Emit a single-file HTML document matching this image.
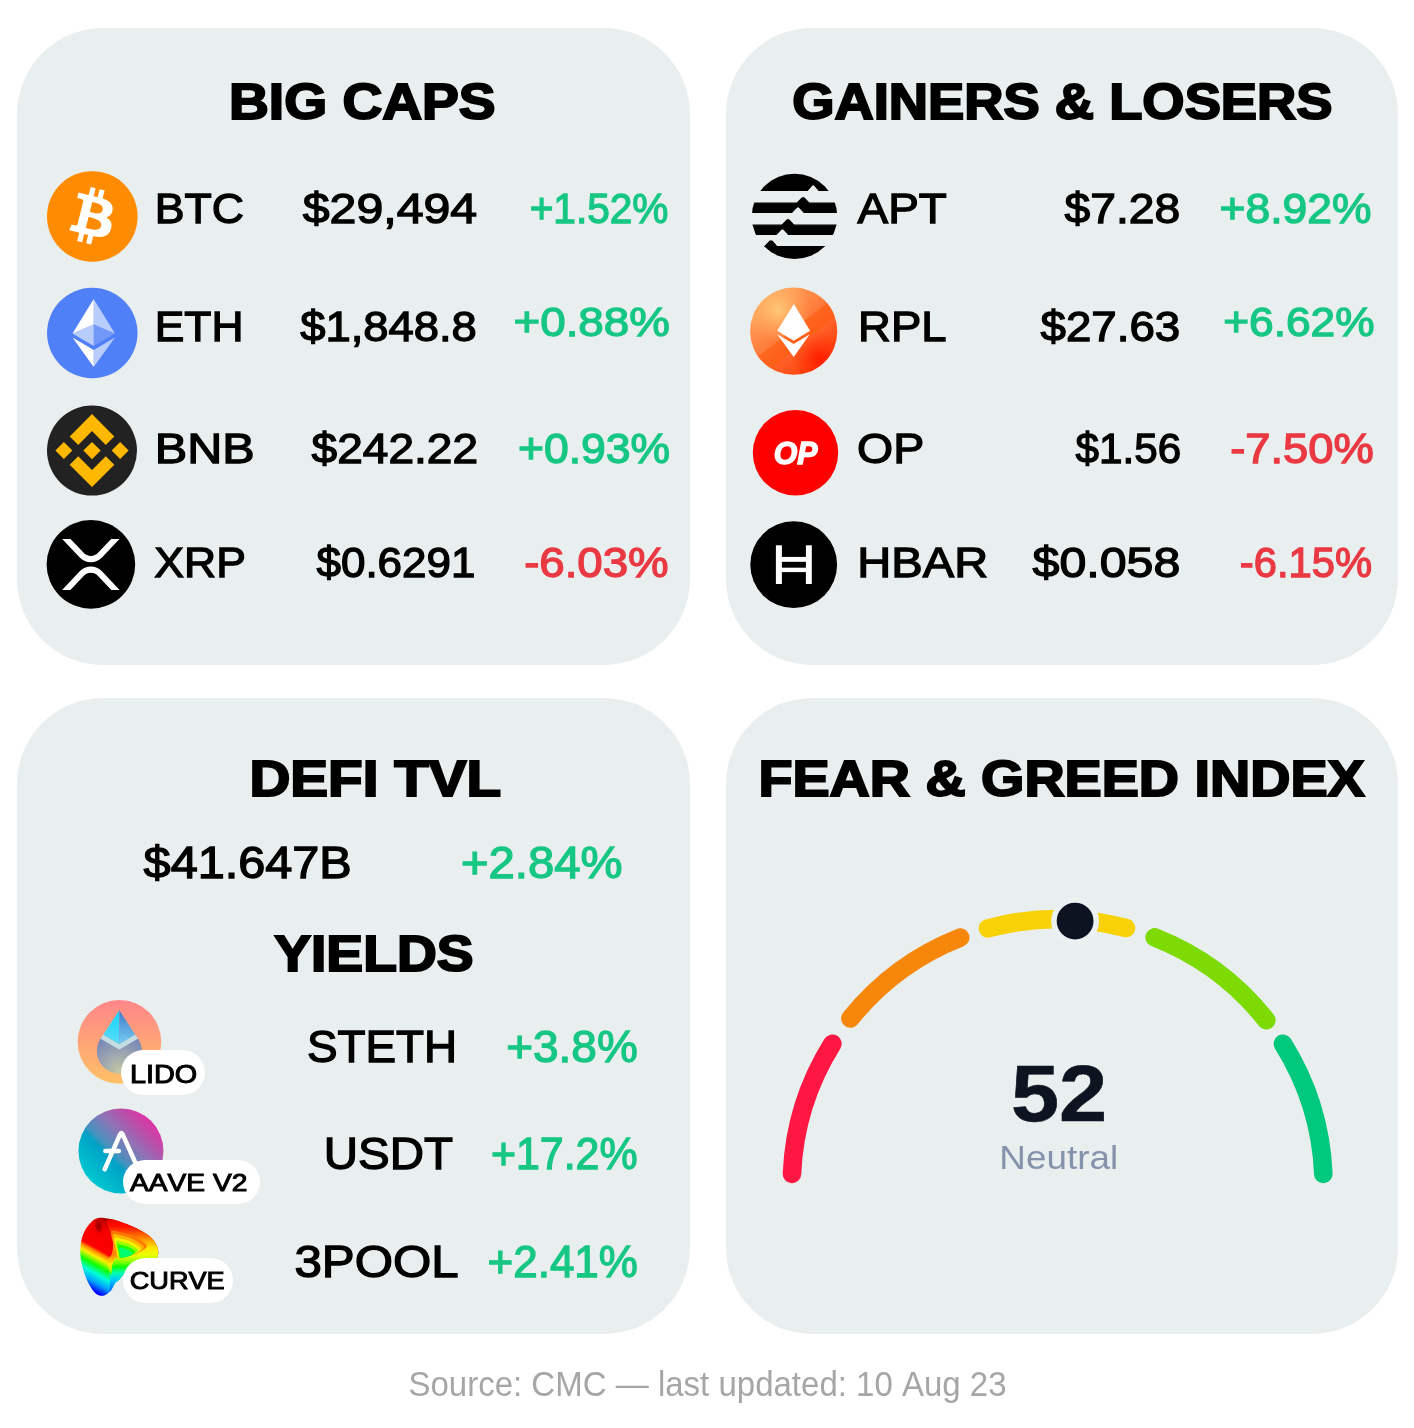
<!DOCTYPE html>
<html lang="en"><head><meta charset="utf-8"><title>Crypto market dashboard</title>
<style>
html,body{margin:0;padding:0;background:#fff;}
body{width:1414px;height:1428px;position:relative;overflow:hidden;font-family:"Liberation Sans",sans-serif;}
.card{position:absolute;background:#E9EEEE;border-radius:86px;}
.tx{position:absolute;left:0;top:0;margin:0;padding:0;display:block;line-height:1;white-space:nowrap;transform-origin:0 0;font-kerning:none;letter-spacing:0;}
.pill{position:absolute;background:#fff;border-radius:23px;}
svg{position:absolute;left:0;top:0;overflow:visible;}
</style></head><body>
<main>
<svg class="defs" width="0" height="0" aria-hidden="true"><defs>
<linearGradient id="gLido" x1="0" y1="0" x2="0" y2="1"><stop offset="0" stop-color="#FF8689"/><stop offset="1" stop-color="#FFC166"/></linearGradient>
<radialGradient id="gLidoBody" cx="0.5" cy="0.95" r="0.95"><stop offset="0" stop-color="#C4C8A2"/><stop offset="0.45" stop-color="#9AA4B0"/><stop offset="1" stop-color="#6A7CBA"/></radialGradient>
<linearGradient id="gLidoL" x1="0" y1="0" x2="0" y2="1"><stop offset="0" stop-color="#12D4FF"/><stop offset="1" stop-color="#5CDDF6"/></linearGradient>
<linearGradient id="gLidoR" x1="0" y1="0" x2="0" y2="1"><stop offset="0" stop-color="#4478CC"/><stop offset="1" stop-color="#74CCF2"/></linearGradient>
<linearGradient id="gAave" x1="0.12" y1="0.88" x2="0.88" y2="0.12"><stop offset="0" stop-color="#00CBD1"/><stop offset="0.36" stop-color="#00A2C6"/><stop offset="0.43" stop-color="#4492BF"/><stop offset="0.62" stop-color="#8A76B6"/><stop offset="0.82" stop-color="#BC4EA9"/><stop offset="1" stop-color="#E52FA6"/></linearGradient>
<linearGradient id="gRpl" x1="0.15" y1="0.1" x2="0.85" y2="0.95"><stop offset="0" stop-color="#FFAA62"/><stop offset="0.45" stop-color="#FF7A3A"/><stop offset="1" stop-color="#FF3606"/></linearGradient>
<radialGradient id="gRplHi" cx="0.32" cy="0.26" r="0.38"><stop offset="0" stop-color="#FFCB7A" stop-opacity="0.95"/><stop offset="1" stop-color="#FFB060" stop-opacity="0"/></radialGradient>
<radialGradient id="gRplLo" cx="0.80" cy="0.82" r="0.32"><stop offset="0" stop-color="#FF1A00" stop-opacity="0.95"/><stop offset="1" stop-color="#FF3000" stop-opacity="0"/></radialGradient>
<linearGradient id="gCv1" gradientUnits="userSpaceOnUse" x1="101.82" y1="1217.76" x2="69.0" y2="1277.66"><stop offset="0" stop-color="#B00000"/><stop offset="0.12" stop-color="#F40000"/><stop offset="0.43" stop-color="#FF0000"/><stop offset="0.475" stop-color="#FF8A00"/><stop offset="0.54" stop-color="#FFF000"/><stop offset="0.645" stop-color="#10FF00"/><stop offset="0.76" stop-color="#00FFD8"/><stop offset="0.88" stop-color="#00A0FF"/><stop offset="1" stop-color="#0000FF"/></linearGradient>
<linearGradient id="gCv2" x1="0" y1="0" x2="0" y2="1"><stop offset="0" stop-color="#F00000"/><stop offset="0.10" stop-color="#FF1000"/><stop offset="0.22" stop-color="#FF6A00"/><stop offset="0.31" stop-color="#FFB000"/><stop offset="0.40" stop-color="#FFE800"/><stop offset="0.50" stop-color="#E8FF00"/><stop offset="0.58" stop-color="#90FF00"/><stop offset="0.65" stop-color="#10FF00"/><stop offset="0.74" stop-color="#00FFB0"/><stop offset="0.84" stop-color="#00C8FF"/><stop offset="1" stop-color="#0060FF"/></linearGradient>
<radialGradient id="gCvDark"><stop offset="0" stop-color="#8E0000" stop-opacity="0.95"/><stop offset="0.55" stop-color="#A80000" stop-opacity="0.7"/><stop offset="1" stop-color="#E00000" stop-opacity="0"/></radialGradient>
<linearGradient id="gCvStrip" x1="0" y1="0" x2="0" y2="1"><stop offset="0" stop-color="#FF5000"/><stop offset="0.35" stop-color="#FF9C00"/><stop offset="0.6" stop-color="#FFE800"/><stop offset="0.85" stop-color="#A0FF00"/><stop offset="1" stop-color="#30FF00"/></linearGradient>
<clipPath id="cApt"><circle cx="794.5" cy="216.4" r="42.7"/></clipPath>
<clipPath id="cRpl"><circle cx="793.7" cy="331.2" r="43.6"/></clipPath>
</defs></svg>
<section class="card" id="big-caps" style="left:17px;top:28px;width:673px;height:637px">
<svg class="art" width="673" height="637" viewBox="17 28 673 637" aria-hidden="true">
<g id="ic-btc"><circle cx="92.3" cy="216.45" r="45.3" fill="#FF8C00"/>
<path id="btcB" transform="translate(47.05,171.05) scale(0.02223)" fill="#fff" d="M2947.77 1754.38c40.72,-272.26 -166.56,-418.61 -450,-516.24l91.95 -368.8 -224.5 -55.94 -89.51 359.09c-59.02,-14.72 -119.63,-28.59 -179.87,-42.34l90.16 -361.46 -224.36 -55.94 -92 368.68c-48.84,-11.12 -96.81,-22.11 -143.35,-33.69l0.26 -1.16 -309.59 -77.31 -59.72 239.78c0,0 166.56,38.18 163.05,40.53 90.91,22.69 107.35,82.87 104.62,130.57l-104.74 420.15c6.26,1.59 14.38,3.89 23.34,7.49 -7.49,-1.86 -15.46,-3.89 -23.73,-5.87l-146.81 588.57c-11.11,27.62 -39.31,69.07 -102.87,53.33 2.25,3.26 -163.17,-40.72 -163.17,-40.72l-111.46 256.98 292.15 72.83c54.35,13.63 107.61,27.89 160.06,41.3l-92.9 373.03 224.24 55.94 92 -369.07c61.26,16.63 120.71,31.97 178.91,46.43l-91.69 367.33 224.51 55.94 92.89 -372.33c382.82,72.45 670.67,43.24 791.83,-303.02 97.63,-278.78 -4.86,-439.58 -206.26,-544.44 146.69,-33.83 257.18,-130.31 286.64,-329.61l-0.07 -0.05zm-512.93 719.26c-69.38,278.78 -538.76,128.08 -690.94,90.29l123.28 -494.2c152.17,37.99 640.17,113.17 567.67,403.91zm69.43 -723.3c-63.29,253.58 -453.96,124.75 -580.69,93.16l111.77 -448.21c126.73,31.59 534.85,90.55 468.94,355.05l-0.02 0z"/></g>
<g id="ic-eth"><circle cx="92.3" cy="333" r="45.25" fill="#5080F7"/><g transform="translate(47.02,287.72) scale(2.83)" fill="#fff"><path fill-opacity=".602" d="M16.498 4v8.87l7.497 3.35z"/><path d="M16.498 4L9 16.22l7.498-3.35z"/><path fill-opacity=".602" d="M16.498 21.968v6.027L24 17.616z"/><path d="M16.498 27.995v-6.028L9 17.616z"/><path fill-opacity=".2" d="M16.498 20.573l7.497-4.353-7.497-3.348z"/><path fill-opacity=".602" d="M9 16.22l7.498 4.353v-7.701z"/></g></g>
<g id="ic-bnb"><circle cx="92.0" cy="450.6" r="45" fill="#222222"/>
<polygon fill="#FFB800" points="92.00,414.10 114.30,436.40 105.80,444.90 92.00,431.10 78.20,444.90 69.70,436.40"/>
<polygon fill="#FFB800" points="92.00,487.10 114.30,464.80 105.80,456.30 92.00,470.10 78.20,456.30 69.70,464.80"/>
<polygon fill="#FFB800" points="63.90,442.10 72.40,450.60 63.90,459.10 55.40,450.60"/>
<polygon fill="#FFB800" points="92.00,441.90 100.70,450.60 92.00,459.30 83.30,450.60"/>
<polygon fill="#FFB800" points="120.10,442.10 128.60,450.60 120.10,459.10 111.60,450.60"/>
</g>
<g id="ic-xrp"><circle cx="90.9" cy="564.4" r="44.3" fill="#000"/><g transform="translate(62.1,538.9) scale(0.11230,0.12052)" fill="#fff"><path d="M437,0h74L357,152.48c-55.77,55.19-146.19,55.19-202,0L.94,0H75L192,115.83a91.11,91.11,0,0,0,127.91,0Z"/><path d="M74.05,424H0L155,270.58c55.77-55.19,146.19-55.19,202,0L512,424H438L320,307.23a91.11,91.11,0,0,0-127.91,0Z"/></g></g>
</svg>
<h2 id="h1" class="tx title" style="font-weight:700;font-size:50.00px;color:#000;-webkit-text-stroke:2.0px #000;transform:translate(212.01px,48.92px) scaleX(1.1032)">BIG CAPS</h2>
<span id="t1" class="tx ticker" style="font-weight:400;font-size:42.30px;color:#000;-webkit-text-stroke:1.3px #000;transform:translate(137.73px,160.05px) scaleX(1.0543)">BTC</span>
<span id="p1" class="tx price" style="font-weight:400;font-size:42.30px;color:#000;-webkit-text-stroke:1.3px #000;transform:translate(285.77px,160.05px) scaleX(1.1403)">$29,494</span>
<span id="c1" class="tx change" style="font-weight:400;font-size:42.30px;color:#16C784;-webkit-text-stroke:1.3px #16C784;transform:translate(512.64px,160.05px) scaleX(0.9596)">+1.52%</span>
<span id="t2" class="tx ticker" style="font-weight:400;font-size:42.01px;color:#000;-webkit-text-stroke:1.3px #000;transform:translate(137.70px,277.59px) scaleX(1.0569)">ETH</span>
<span id="p2" class="tx price" style="font-weight:400;font-size:42.01px;color:#000;-webkit-text-stroke:1.3px #000;transform:translate(283.26px,277.59px) scaleX(1.0798)">$1,848.8</span>
<span id="c2" class="tx change" style="font-weight:400;font-size:41.57px;color:#16C784;-webkit-text-stroke:1.3px #16C784;transform:translate(496.48px,273.01px) scaleX(1.1005)">+0.88%</span>
<span id="t3" class="tx ticker" style="font-weight:400;font-size:41.86px;color:#000;-webkit-text-stroke:1.3px #000;transform:translate(137.82px,399.97px) scaleX(1.1587)">BNB</span>
<span id="p3" class="tx price" style="font-weight:400;font-size:41.86px;color:#000;-webkit-text-stroke:1.3px #000;transform:translate(294.62px,399.97px) scaleX(1.0996)">$242.22</span>
<span id="c3" class="tx change" style="font-weight:400;font-size:41.86px;color:#16C784;-webkit-text-stroke:1.3px #16C784;transform:translate(500.97px,399.97px) scaleX(1.0624)">+0.93%</span>
<span id="t4" class="tx ticker" style="font-weight:400;font-size:41.72px;color:#000;-webkit-text-stroke:1.3px #000;transform:translate(137.34px,514.04px) scaleX(1.0663)">XRP</span>
<span id="p4" class="tx price" style="font-weight:400;font-size:41.72px;color:#000;-webkit-text-stroke:1.3px #000;transform:translate(299.51px,514.04px) scaleX(1.0534)">$0.6291</span>
<span id="c4" class="tx change" style="font-weight:400;font-size:41.72px;color:#EA3943;-webkit-text-stroke:1.3px #EA3943;transform:translate(507.13px,514.04px) scaleX(1.0935)">-6.03%</span>
</section>
<section class="card" id="gainers-losers" style="left:726px;top:28px;width:672px;height:637px">
<svg class="art" width="672" height="637" viewBox="726 28 672 637" aria-hidden="true">
<g id="ic-apt" clip-path="url(#cApt)" fill="#000" stroke="#000" stroke-width="1.2" stroke-linejoin="round">
<polygon points="744.50,166.40 844.50,166.40 844.50,190.50 819.10,190.50 814.20,184.90 812.20,184.90 807.20,190.50 744.50,190.50"/>
<polygon points="744.50,203.20 796.90,203.20 802.20,197.90 804.10,197.90 809.20,203.20 844.50,203.20 844.50,212.30 804.00,212.30 799.00,206.80 797.10,206.80 791.80,212.30 744.50,212.30"/>
<polygon points="744.50,225.20 782.00,225.20 787.10,219.80 788.90,219.80 793.90,225.20 844.50,225.20 844.50,234.40 788.40,234.40 783.40,228.80 781.50,228.80 776.30,234.40 744.50,234.40"/>
<polygon points="744.50,246.70 764.70,246.70 770.10,241.00 771.90,241.00 776.90,246.70 844.50,246.70 844.50,266.40 744.50,266.40"/>
</g>
<g id="ic-rpl"><circle cx="793.7" cy="331.2" r="43.6" fill="url(#gRpl)"/><circle cx="793.7" cy="331.2" r="43.6" fill="url(#gRplHi)"/><circle cx="793.7" cy="331.2" r="43.6" fill="url(#gRplLo)"/>
<g clip-path="url(#cRpl)"><polygon fill="#FF5A0A" fill-opacity="0.55" points="741.7,369.2 837.7,295.2 845.7,307.2 753.7,383.2"/></g>
<polygon fill="#fff" points="793.8,304.1 810.1,330.7 793.7,340.8 777.2,330.7"/>
<polygon fill="#fff" points="777.2,334.3 793.7,344.1 809.8,334.3 793.7,357.1"/></g>
<g id="ic-op"><circle cx="795.5" cy="452.8" r="42.7" fill="#FE0000"/></g>
<g id="ic-hbar"><circle cx="793.7" cy="564.7" r="43.4" fill="#000"/><g fill="#fff"><rect x="775.9" y="545.3" width="6" height="38.7"/><rect x="805.9" y="545.3" width="5.9" height="38.7"/><rect x="779" y="556.9" width="30" height="4.9"/><rect x="779" y="567.7" width="30" height="4.4"/></g></g>
</svg>
<h2 id="h2" class="tx title" style="font-weight:700;font-size:49.27px;color:#000;-webkit-text-stroke:2.0px #000;transform:translate(66.22px,48.99px) scaleX(1.1028)">GAINERS &amp; LOSERS</h2>
<span id="t5" class="tx ticker" style="font-weight:400;font-size:42.30px;color:#000;-webkit-text-stroke:1.3px #000;transform:translate(131.61px,160.05px) scaleX(1.0836)">APT</span>
<span id="p5" class="tx price" style="font-weight:400;font-size:42.30px;color:#000;-webkit-text-stroke:1.3px #000;transform:translate(338.51px,160.05px) scaleX(1.0930)">$7.28</span>
<span id="c5" class="tx change" style="font-weight:400;font-size:42.30px;color:#16C784;-webkit-text-stroke:1.3px #16C784;transform:translate(493.61px,160.05px) scaleX(1.0495)">+8.92%</span>
<span id="t6" class="tx ticker" style="font-weight:400;font-size:42.01px;color:#000;-webkit-text-stroke:1.3px #000;transform:translate(132.07px,277.59px) scaleX(1.0822)">RPL</span>
<span id="p6" class="tx price" style="font-weight:400;font-size:42.01px;color:#000;-webkit-text-stroke:1.3px #000;transform:translate(314.52px,277.59px) scaleX(1.0872)">$27.63</span>
<span id="c6" class="tx change" style="font-weight:400;font-size:41.57px;color:#16C784;-webkit-text-stroke:1.3px #16C784;transform:translate(497.18px,273.01px) scaleX(1.0655)">+6.62%</span>
<span id="op" class="tx glyph" style="font-weight:700;font-style:italic;font-size:30.52px;color:#fff;-webkit-text-stroke:1.4px #fff;transform:translate(47.82px,409.56px) scaleX(0.9919)">OP</span>
<span id="t7" class="tx ticker" style="font-weight:400;font-size:41.86px;color:#000;-webkit-text-stroke:1.3px #000;transform:translate(131.07px,399.97px) scaleX(1.1096)">OP</span>
<span id="p7" class="tx price" style="font-weight:400;font-size:41.86px;color:#000;-webkit-text-stroke:1.3px #000;transform:translate(349.50px,399.97px) scaleX(1.0081)">$1.56</span>
<span id="c7" class="tx change" style="font-weight:400;font-size:41.86px;color:#EA3943;-webkit-text-stroke:1.3px #EA3943;transform:translate(504.19px,399.97px) scaleX(1.0829)">-7.50%</span>
<span id="t8" class="tx ticker" style="font-weight:400;font-size:41.72px;color:#000;-webkit-text-stroke:1.3px #000;transform:translate(131.37px,514.04px) scaleX(1.1284)">HBAR</span>
<span id="p8" class="tx price" style="font-weight:400;font-size:41.72px;color:#000;-webkit-text-stroke:1.3px #000;transform:translate(306.53px,514.04px) scaleX(1.1577)">$0.058</span>
<span id="c8" class="tx change" style="font-weight:400;font-size:41.72px;color:#EA3943;-webkit-text-stroke:1.3px #EA3943;transform:translate(513.85px,514.04px) scaleX(0.9998)">-6.15%</span>
</section>
<section class="card" id="defi" style="left:17px;top:698px;width:673px;height:636px">
<svg class="art" width="673" height="636" viewBox="17 698 673 636" aria-hidden="true">
<g id="ic-lido"><circle cx="119.45" cy="1041.9" r="41.8" fill="url(#gLido)"/>
<circle cx="119.31" cy="1051.20" r="22.5" fill="url(#gLidoBody)"/>
<polygon fill="#C4DDE3" points="100.45,1038.65 103.40,1034.60 119.31,1043.95 135.05,1034.60 137.95,1038.65 119.31,1049.60"/>
<polygon fill="url(#gLidoL)" points="119.31,1010.20 103.40,1034.60 119.31,1043.95"/>
<polygon fill="url(#gLidoR)" points="119.31,1010.20 135.05,1034.60 119.31,1043.95"/>
</g>
<g id="ic-aave"><circle cx="120.95" cy="1150.9" r="42.5" fill="url(#gAave)"/>
<path fill="none" stroke="#fff" stroke-width="4.5" stroke-linecap="round" stroke-linejoin="round" d="M104.65,1169.30 L120.05,1134.30 Q121.30,1131.50 122.65,1134.30 L139.95,1172.90 M105.35,1150.90 L118.85,1150.90"/></g>
<g id="ic-curve">
<path fill="url(#gCv1)" d="M101.82,1217.76 C104.71,1217.94 109.72,1218.61 113.85,1219.67 C117.97,1220.73 122.10,1222.32 126.58,1224.12 C131.06,1225.93 136.60,1228.23 140.72,1230.49 C144.85,1232.75 148.64,1235.15 151.33,1237.70 C154.02,1240.26 155.69,1243.12 156.85,1245.84 C158.00,1248.55 158.59,1251.67 158.26,1253.97 C157.93,1256.27 157.79,1257.98 154.87,1259.63 C151.94,1261.28 144.85,1262.34 140.72,1263.87 C136.60,1265.40 132.94,1267.05 130.11,1268.82 C127.28,1270.59 125.52,1272.71 123.75,1274.48 C121.98,1276.25 120.92,1278.01 119.50,1279.43 C118.09,1280.84 116.44,1281.55 115.26,1282.96 C114.08,1284.38 113.73,1286.12 112.43,1287.92 C111.14,1289.71 109.25,1292.39 107.48,1293.71 C105.71,1295.03 103.83,1295.92 101.82,1295.84 C99.82,1295.75 97.64,1295.25 95.46,1293.22 C93.28,1291.19 90.74,1287.50 88.74,1283.67 C86.74,1279.84 84.82,1274.95 83.44,1270.23 C82.06,1265.52 80.84,1260.22 80.47,1255.38 C80.09,1250.55 80.38,1245.48 81.17,1241.24 C81.96,1237.00 83.53,1233.11 85.21,1229.92 C86.88,1226.74 89.33,1224.03 91.22,1222.14 C93.10,1220.26 94.75,1219.34 96.52,1218.61 C98.29,1217.88 98.94,1217.58 101.82,1217.76Z"/>
<path fill="url(#gCv2)" d="M106.78,1221.44 C107.25,1219.14 110.55,1219.22 113.85,1219.67 C117.15,1220.12 122.10,1222.32 126.58,1224.12 C131.06,1225.93 136.60,1228.23 140.72,1230.49 C144.85,1232.75 148.64,1235.15 151.33,1237.70 C154.02,1240.26 155.69,1243.12 156.85,1245.84 C158.00,1248.55 158.59,1251.67 158.26,1253.97 C157.93,1256.27 157.79,1257.98 154.87,1259.63 C151.94,1261.28 144.85,1262.34 140.72,1263.87 C136.60,1265.40 132.94,1267.05 130.11,1268.82 C127.28,1270.59 125.52,1272.71 123.75,1274.48 C121.98,1276.25 120.92,1278.01 119.50,1279.43 C118.09,1280.84 116.44,1281.55 115.26,1282.96 C114.08,1284.38 113.38,1286.50 112.43,1287.92 C111.49,1289.33 110.02,1292.98 109.60,1291.45 C109.19,1289.92 110.13,1282.49 109.96,1278.72 C109.78,1274.95 109.07,1271.65 108.54,1268.82 C108.01,1265.99 106.24,1264.11 106.78,1261.75 C107.31,1259.39 110.64,1257.50 111.73,1254.68 C112.81,1251.85 113.40,1248.31 113.28,1244.78 C113.16,1241.24 112.10,1237.35 111.02,1233.46 C109.93,1229.57 106.30,1223.74 106.78,1221.44Z"/>
<path fill="#FF7800" d="M111.37,1231.69 C112.69,1229.22 118.39,1231.87 122.33,1232.75 C126.28,1233.64 131.00,1234.82 135.06,1237.00 C139.13,1239.18 146.26,1243.12 146.73,1245.84 C147.20,1248.55 141.25,1251.46 137.89,1253.26 C134.53,1255.07 130.17,1255.93 126.58,1256.66 C122.98,1257.39 118.35,1259.16 116.32,1257.65 C114.30,1256.14 115.24,1251.93 114.41,1247.60 C113.59,1243.28 110.05,1234.17 111.37,1231.69Z"/>
<path fill="#FFB400" d="M112.92,1234.94 C114.07,1232.77 119.06,1235.09 122.51,1235.86 C125.97,1236.64 130.09,1237.67 133.65,1239.58 C137.21,1241.49 143.45,1244.94 143.86,1247.31 C144.27,1249.68 139.06,1252.23 136.12,1253.81 C133.19,1255.39 129.37,1256.14 126.22,1256.78 C123.08,1257.42 119.02,1258.97 117.25,1257.65 C115.48,1256.33 116.30,1252.64 115.58,1248.86 C114.86,1245.07 111.76,1237.10 112.92,1234.94Z"/>
<path fill="#F4F000" d="M114.47,1238.18 C115.46,1236.32 119.73,1238.31 122.69,1238.98 C125.65,1239.64 129.18,1240.52 132.23,1242.16 C135.28,1243.79 140.63,1246.76 140.99,1248.79 C141.34,1250.82 136.88,1253.01 134.36,1254.36 C131.84,1255.71 128.57,1256.36 125.87,1256.90 C123.17,1257.45 119.70,1258.78 118.18,1257.65 C116.66,1256.51 117.37,1253.36 116.75,1250.11 C116.13,1246.87 113.48,1240.04 114.47,1238.18Z"/>
<path fill="#9CFF00" d="M116.01,1241.42 C116.84,1239.88 120.40,1241.54 122.86,1242.09 C125.33,1242.64 128.28,1243.38 130.82,1244.74 C133.36,1246.10 137.82,1248.57 138.11,1250.26 C138.41,1251.96 134.69,1253.78 132.59,1254.91 C130.49,1256.03 127.76,1256.57 125.52,1257.03 C123.27,1257.48 120.37,1258.59 119.11,1257.65 C117.84,1256.70 118.43,1254.07 117.91,1251.37 C117.40,1248.67 115.19,1242.97 116.01,1241.42Z"/>
<path fill="#20FF00" d="M117.56,1244.67 C118.22,1243.43 121.07,1244.76 123.04,1245.20 C125.02,1245.64 127.37,1246.23 129.41,1247.32 C131.44,1248.41 135.00,1250.39 135.24,1251.74 C135.48,1253.10 132.50,1254.55 130.82,1255.45 C129.14,1256.36 126.96,1256.79 125.16,1257.15 C123.37,1257.52 121.05,1258.40 120.04,1257.65 C119.02,1256.89 119.49,1254.79 119.08,1252.63 C118.67,1250.46 116.90,1245.91 117.56,1244.67Z"/>
<path fill="#00FF70" d="M119.11,1247.91 C119.60,1246.99 121.74,1247.98 123.22,1248.31 C124.70,1248.64 126.47,1249.08 127.99,1249.90 C129.52,1250.72 132.19,1252.20 132.37,1253.22 C132.54,1254.23 130.31,1255.33 129.05,1256.00 C127.79,1256.68 126.16,1257.00 124.81,1257.28 C123.46,1257.55 121.72,1258.21 120.96,1257.65 C120.20,1257.08 120.56,1255.50 120.25,1253.88 C119.94,1252.26 118.61,1248.84 119.11,1247.91Z"/>
<ellipse cx="98.64" cy="1226.03" rx="4.95" ry="8.49" fill="url(#gCvDark)" transform="rotate(-8 98.64 1226.03)"/>
<path fill="url(#gCvStrip)" d="M113.14,1247.60 C113.75,1247.90 115.52,1253.97 115.40,1256.80 C115.29,1259.63 113.10,1261.63 112.43,1264.58 C111.76,1267.52 111.96,1273.65 111.37,1274.48 C110.78,1275.30 109.64,1271.59 108.90,1269.53 C108.15,1267.46 106.45,1264.52 106.92,1262.10 C107.39,1259.69 110.69,1257.45 111.73,1255.03 C112.76,1252.61 112.53,1247.31 113.14,1247.60Z"/>
</g>
</svg>
<div class="pill" style="left:104.3px;top:351.8px;width:83.8px;height:45.2px"></div>
<div class="pill" style="left:105.8px;top:461.5px;width:137.3px;height:44.3px"></div>
<div class="pill" style="left:105.7px;top:560.0px;width:110.3px;height:44.9px"></div>
<h2 id="h3" class="tx title" style="font-weight:700;font-size:49.64px;color:#000;-webkit-text-stroke:2.0px #000;transform:translate(232.40px,56.96px) scaleX(1.1412)">DEFI TVL</h2>
<span id="p9" class="tx price" style="font-weight:400;font-size:43.46px;color:#000;-webkit-text-stroke:1.3px #000;transform:translate(126.60px,144.06px) scaleX(1.1190)">$41.647B</span>
<span id="c9" class="tx change" style="font-weight:400;font-size:43.46px;color:#16C784;-webkit-text-stroke:1.3px #16C784;transform:translate(444.00px,144.06px) scaleX(1.0873)">+2.84%</span>
<h2 id="h4" class="tx title" style="font-weight:700;font-size:49.64px;color:#000;-webkit-text-stroke:2.0px #000;transform:translate(257.17px,231.96px) scaleX(1.1127)">YIELDS</h2>
<span id="t9" class="tx ticker" style="font-weight:400;font-size:44.55px;color:#000;-webkit-text-stroke:1.3px #000;transform:translate(289.89px,326.96px) scaleX(1.0292)">STETH</span>
<span id="c10" class="tx change" style="font-weight:400;font-size:44.55px;color:#16C784;-webkit-text-stroke:1.3px #16C784;transform:translate(489.23px,326.96px) scaleX(1.0312)">+3.8%</span>
<span id="l1" class="tx label" style="font-weight:400;font-size:25.29px;color:#000;-webkit-text-stroke:1.0px #000;transform:translate(112.95px,364.09px) scaleX(1.1402)">LIDO</span>
<span id="t10" class="tx ticker" style="font-weight:400;font-size:44.19px;color:#000;-webkit-text-stroke:1.3px #000;transform:translate(306.74px,434.00px) scaleX(1.0738)">USDT</span>
<span id="c11" class="tx change" style="font-weight:400;font-size:44.19px;color:#16C784;-webkit-text-stroke:1.3px #16C784;transform:translate(473.94px,434.00px) scaleX(0.9700)">+17.2%</span>
<span id="l2" class="tx label" style="font-weight:400;font-size:24.56px;color:#000;-webkit-text-stroke:1.0px #000;transform:translate(112.97px,473.06px) scaleX(1.1467)">AAVE V2</span>
<span id="l3" class="tx label" style="font-weight:400;font-size:24.71px;color:#000;-webkit-text-stroke:1.0px #000;transform:translate(112.67px,571.08px) scaleX(1.0989)">CURVE</span>
<span id="t11" class="tx ticker" style="font-weight:400;font-size:44.11px;color:#000;-webkit-text-stroke:1.3px #000;transform:translate(277.50px,542.08px) scaleX(1.1158)">3POOL</span>
<span id="c12" class="tx change" style="font-weight:400;font-size:44.11px;color:#16C784;-webkit-text-stroke:1.3px #16C784;transform:translate(470.60px,542.08px) scaleX(0.9958)">+2.41%</span>
</section>
<section class="card" id="fear-greed" style="left:726px;top:698px;width:672px;height:636px">
<svg class="art" width="672" height="636" viewBox="726 698 672 636" aria-hidden="true">
<g id="gauge" fill="none" stroke-width="18.6" stroke-linecap="round">
<path stroke="#FF1744" d="M791.98,1173.87 A265.9,265.9 0 0 1 832.40,1043.70"/>
<path stroke="#F7870B" d="M850.42,1018.39 A265.9,265.9 0 0 1 960.20,937.60"/>
<path stroke="#F8D106" d="M987.93,928.40 A265.9,265.9 0 0 1 1126.02,928.04"/>
<path stroke="#7DDA02" d="M1154.67,937.43 A265.9,265.9 0 0 1 1266.32,1020.20"/>
<path stroke="#00C87C" d="M1282.90,1043.70 A265.9,265.9 0 0 1 1323.32,1173.87"/>
<circle cx="1075.10" cy="921.10" r="21.2" fill="#0D1421" stroke="#EBF0F0" stroke-width="5.6"/>
</g>
</svg>
<h2 id="h5" class="tx title" style="font-weight:700;font-size:49.93px;color:#000;-webkit-text-stroke:2.0px #000;transform:translate(32.44px,57.01px) scaleX(1.1151)">FEAR &amp; GREED INDEX</h2>
<strong id="g1" class="tx value" style="font-weight:700;font-size:80.23px;color:#0D1421;-webkit-text-stroke:0.6px #0D1421;transform:translate(284.96px,354.98px) scaleX(1.0789)">52</strong>
<span id="g2" class="tx status" style="font-weight:400;font-size:33.87px;color:#8492AB;transform:translate(273.33px,442.98px) scaleX(1.0881)">Neutral</span>
</section>
<footer id="f1" class="tx source" style="font-weight:400;font-size:34.30px;color:#A6A6A6;transform:translate(408.45px,1366.56px) scaleX(0.9624)">Source: CMC — last updated: 10 Aug 23</footer>
</main>
</body></html>
